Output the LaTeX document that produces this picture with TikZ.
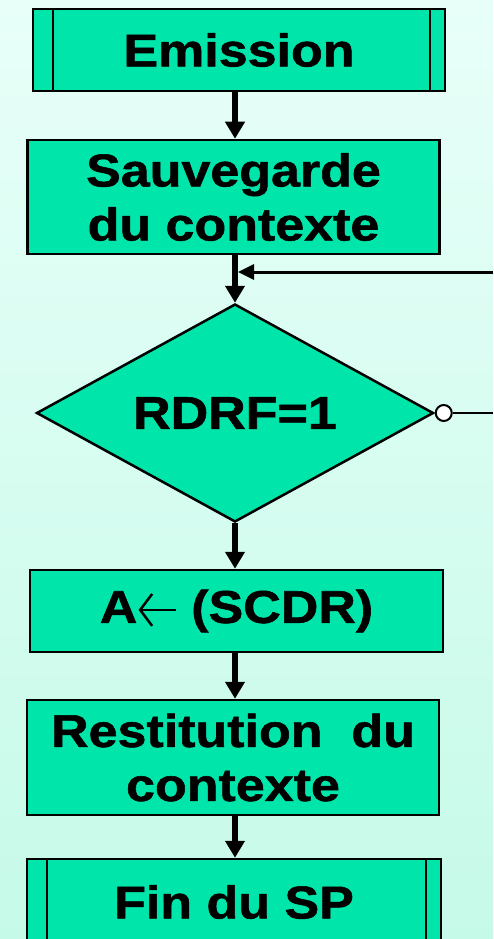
\documentclass[tikz,border=0pt]{standalone}
\usepackage{fontspec}
\setmainfont{Liberation Sans}[FakeStretch=1.13,FakeBold=1.2]
\usetikzlibrary{arrows.meta,shapes.geometric}
\definecolor{boxgreen}{RGB}{0,229,170}
\definecolor{bgtop}{RGB}{232,255,249}
\definecolor{bgbot}{RGB}{198,250,232}

\newcommand{\lfleche}{\tikz[baseline=-13pt]\draw[line width=2.5pt,
  {Straight Barb[length=12pt,width=32pt,line width=2.5pt]}-] (0pt,0pt) -- (37pt,0pt);}

\tikzset{
  box/.style={draw, line width=2.5pt, fill=boxgreen, minimum width=412pt,
    inner sep=0pt, align=center, font=\fontsize{46}{54}\selectfont\bfseries},
  procbox/.style={box, path picture={
    \draw[line width=2pt] ([xshift=20pt]path picture bounding box.north west)
      -- ([xshift=20pt]path picture bounding box.south west);
    \draw[line width=2pt] ([xshift=-15pt]path picture bounding box.north east)
      -- ([xshift=-15pt]path picture bounding box.south east);}},
  testbox/.style={draw, diamond, aspect=1.82, line width=2.5pt, fill=boxgreen,
    inner sep=0pt, minimum width=397pt, minimum height=218pt,
    font=\fontsize{46}{54}\selectfont\bfseries},
  flow/.style={line width=5.5pt, -{Triangle[width=19pt,length=17pt]}},
  back/.style={line width=3pt, -{Triangle[width=15pt,length=16pt]}}
}

\begin{document}
\begin{tikzpicture}[x=1pt,y=-1pt]
\useasboundingbox (0,0) rectangle (493,939);
\clip (0,0) rectangle (493,939);
\shade[top color=bgtop, bottom color=bgbot] (0,0) rectangle (493,939);

\node[procbox, minimum height=82pt] (emi) at (239,50) {Emission};
\node[box, minimum height=114pt] (sauve) at (233.5,197) {Sauvegarde\\du contexte};
\node[testbox] (diam) at (235,413) {RDRF=1};
\node[box, minimum height=82pt, minimum width=413pt] (scdr) at (236.5,611) {A\lfleche\ (SCDR)};
\node[box, minimum height=115pt] (restit) at (233,757.5) {Restitution\ \ du\\contexte};
\node[procbox, minimum height=86pt, minimum width=414pt] (fin) at (234,902) {Fin du SP};

% boucle d'attente
\node[circle, draw, line width=2pt, fill=white, minimum size=16pt, inner sep=0pt,
  anchor=west] (neg) at (diam.east) {};
\coordinate (outR) at (493,413);
\coordinate (inR) at (493,272);

\foreach \a/\b in {emi/sauve,sauve/diam,diam/scdr,scdr/restit,restit/fin}
  \draw[flow] (\a.south -| diam) -- (\b.north -| diam);

\draw[line width=2pt] (neg.east) -- (outR);
\draw[back, shorten >=3pt] (inR) -- (inR -| diam);
\end{tikzpicture}
\end{document}
